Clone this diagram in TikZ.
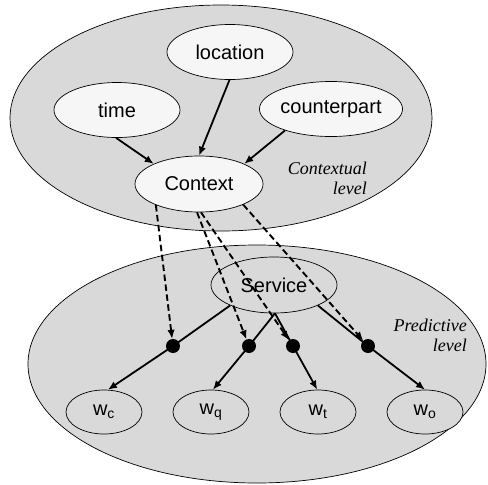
\documentclass[tikz,border=0pt]{standalone}
\usepackage{fontspec}
\setmainfont{Liberation Sans}
\newfontfamily\tmsfont{Liberation Serif}
\usetikzlibrary{shapes.geometric,arrows.meta}
\definecolor{levelgray}{gray}{0.85}
\definecolor{nodewhite}{gray}{0.965}
\tikzset{
  level/.style={ellipse, draw, line width=0.7pt, fill=levelgray, inner sep=0pt},
  ctxnode/.style={ellipse, draw, line width=0.7pt, fill=nodewhite, inner sep=0pt,
    minimum width=126pt, minimum height=55pt, font=\fontsize{20}{24}\selectfont},
  srvnode/.style={ellipse, draw, line width=0.7pt, fill=levelgray, inner sep=0pt,
    minimum width=126pt, minimum height=56pt, font=\fontsize{20}{24}\selectfont},
  leaf/.style={ellipse, draw, line width=0.7pt, fill=levelgray, inner sep=0pt,
    minimum width=76pt, minimum height=44pt, font=\fontsize{20}{24}\selectfont},
  junction/.style={circle, fill=black, inner sep=0pt, minimum size=14pt},
  arr/.style={line width=1.8pt, -{Latex[length=9pt,width=7.5pt]}},
  plain/.style={line width=1.8pt},
  darr/.style={line width=1.9pt, dash pattern=on 6.5pt off 3.5pt, -{Latex[length=9pt,width=7.5pt]}},
  lvltext/.style={font=\tmsfont\itshape\fontsize{18}{20}\selectfont, align=right, anchor=east, inner sep=0pt}
}
\begin{document}
\begin{tikzpicture}[x=1pt,y=-1pt]
\useasboundingbox (0,0) rectangle (488,485);
% level ellipses
\node[level, minimum width=422pt, minimum height=226pt] (ctxlevel) at (221,118) {};
\node[level, minimum width=458pt, minimum height=238pt] (predlevel) at (257,364) {};
% contextual level nodes
\node[ctxnode] (location) at (230,52) {location};
\node[ctxnode] (time) at (117,110) {time};
\node[ctxnode] (counterpart) at (331,109) {counterpart};
\node[ctxnode, minimum width=128pt, minimum height=56pt] (context) at (199,184) {Context};
\node[lvltext] (ctxlabel) at (367,178) {Contextual\\level};
% predictive level nodes
\node[srvnode] (service) at (274,285) {Service};
\node[leaf] (wc) at (104,412) {w\textsubscript{c}};
\node[leaf] (wq) at (211,412) {w\textsubscript{q}};
\node[leaf] (wt) at (318,412) {w\textsubscript{t}};
\node[leaf] (wo) at (425,412) {w\textsubscript{o}};
\node[lvltext] (predlabel) at (467,335) {Predictive\\level};
% junction dots
\node[junction] (j1) at (173,346) {};
\node[junction] (j2) at (249,346) {};
\node[junction] (j3) at (293,346) {};
\node[junction] (j4) at (368,346) {};
% contextual arrows
\draw[arr] (time.-92) -- (context.156);
\draw[arr] (location.-91) -- (context.north);
\draw[arr] (counterpart.205) -- (context.24);
% service to junctions
\draw[plain] (service.205) -- (j1.center);
\draw[plain] (service.-88) -- (j2.center);
\draw[plain] (service.-88) -- (j3.center);
\draw[plain] (service.-25) -- (j4.center);
% junctions to leaves
\draw[arr] (j1.center) -- (wc.80);
\draw[arr] (j2.center) -- (wq.85);
\draw[arr] (j3.center) -- (wt.92);
\draw[arr] (j4.center) -- (wo.north);
% dashed influence arrows
\draw[darr] (context.206) -- (j1);
\draw[darr] (context.-94) -- (j2);
\draw[darr] (context.-86) -- (j3);
\draw[darr] (context.-25) -- (j4);
\end{tikzpicture}
\end{document}
